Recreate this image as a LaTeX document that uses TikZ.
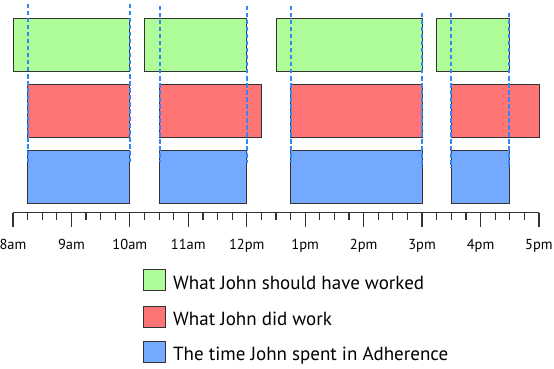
\documentclass[tikz,border=0pt]{standalone}
\usepackage{fontspec}
\setmainfont{PT Sans}
\definecolor{gfill}{RGB}{175,253,152}
\definecolor{rfill}{RGB}{255,117,117}
\definecolor{bfill}{RGB}{117,168,255}
\definecolor{edge}{RGB}{51,51,51}
\definecolor{dashblue}{RGB}{50,135,245}
\begin{document}
\begin{tikzpicture}[x=1pt,y=-1pt,
  barbox/.style={draw=edge,line width=0.9pt},
  gbar/.style={barbox,fill=gfill},
  rbar/.style={barbox,fill=rfill},
  bbar/.style={barbox,fill=bfill},
  guide/.style={draw=dashblue,line width=1.8pt,dash pattern=on 4.5pt off 2.5pt},
  axisline/.style={draw=edge,line width=1.2pt},
  hourlabel/.style={anchor=base,font=\fontsize{14.5}{17}\selectfont,text=black,inner sep=0pt},
  legendtext/.style={anchor=base west,font=\fontsize{19}{22}\selectfont,text=black,inner sep=0pt}]
\useasboundingbox (0,0) rectangle (554,369);
\begin{scope}[x=58.44pt,xshift=13pt]
  % green: scheduled
  \draw[gbar] (0,18) rectangle (2,71);
  \draw[gbar] (2.25,18) rectangle (4,71);
  \draw[gbar] (4.5,18) rectangle (7,71);
  \draw[gbar] (7.25,18) rectangle (8.5,71);
  % red: worked
  \draw[rbar] (0.25,84) rectangle (2,137);
  \draw[rbar] (2.5,84) rectangle (4.25,137);
  \draw[rbar] (4.75,84) rectangle (7,137);
  \draw[rbar] (7.5,84) rectangle (9,137);
  % blue: adherence
  \draw[bbar] (0.25,150) rectangle (2,203);
  \draw[bbar] (2.5,150) rectangle (4,203);
  \draw[bbar] (4.75,150) rectangle (7,203);
  \draw[bbar] (7.5,150) rectangle (8.5,203);
  % axis
  \draw[axisline] (0,212.5) -- (9,212.5);
  \foreach \i in {0,...,35} {\draw[axisline] (\i/4,212.5) -- (\i/4,220);}
  \foreach \i in {0,...,9} {\draw[axisline] (\i,212.5) -- (\i,227);}
  \foreach \i/\t in {0/8am,1/9am,2/10am,3/11am,4/12pm,5/1pm,6/2pm,7/3pm,8/4pm,9/5pm}
    {\node[hourlabel] (h\i) at (\i,249) {\t};}
\end{scope}
% dashed guides
\draw[guide] (28,4) -- (28,162);
\draw[guide] (130,4) -- (130,162);
\draw[guide] (160,6) -- (160,162);
\draw[guide] (247,6) -- (247,163);
\draw[guide] (291,6) -- (291,162);
\draw[guide] (422,13) -- (422,168);
\draw[guide] (451,13) -- (451,168);
\draw[guide] (509,13) -- (509,168);
% legend
\draw[gbar] (143,269) rectangle (165,290);
\draw[rbar] (143,306) rectangle (165,327);
\draw[bbar] (143,341) rectangle (165,362);
\node[legendtext] (l1) at (173,289.5) {What John should have worked};
\node[legendtext] (l2) at (173,325) {What John did work};
\node[legendtext] (l3) at (173,360) {The time John spent in Adherence};
\end{tikzpicture}
\end{document}
